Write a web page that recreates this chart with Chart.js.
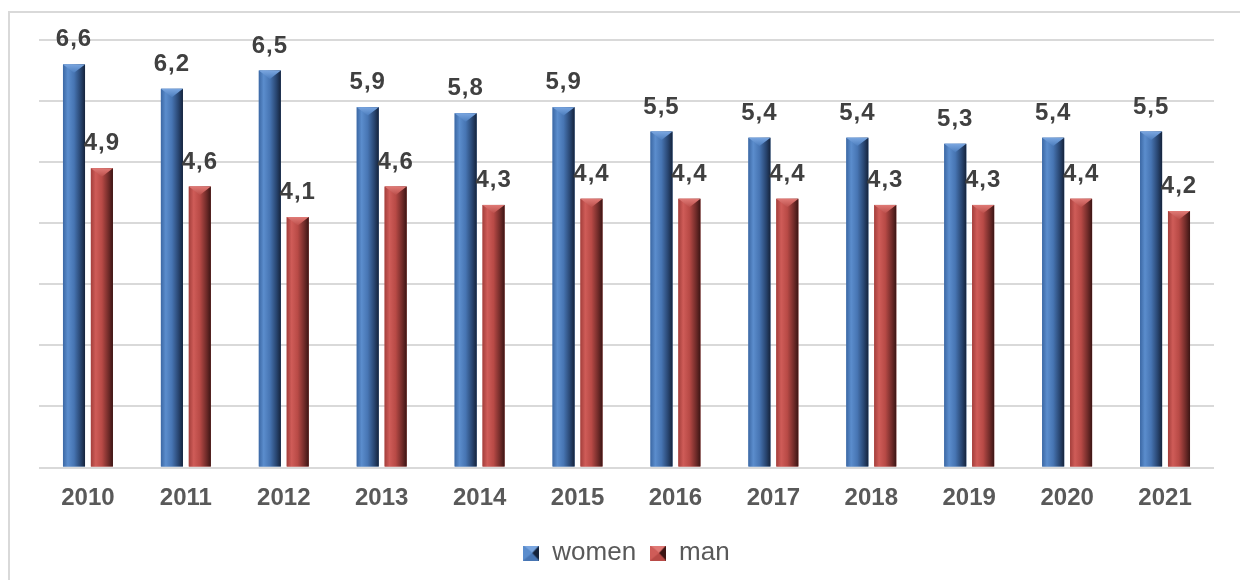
<!DOCTYPE html>
<html>
<head>
  <title>women / man 2010-2021</title>
  <script src="https://cdn.jsdelivr.net/npm/chart.js"></script>
  <style>
    body { margin: 0; background: #fff; overflow: hidden; }
    #frame { position: absolute; left: 8px; top: 11px; width: 1260px; height: 600px; border: 2px solid #d9d9d9; }
    #wrap { position: absolute; left: 0; top: 0; width: 1240px; height: 580px; }
  </style>
</head>
<body>
  <div id="frame"></div>
  <div id="wrap"><canvas id="chart" width="1240" height="580"></canvas></div>

  <script>
    const years = ['2010', '2011', '2012', '2013', '2014', '2015', '2016', '2017', '2018', '2019', '2020', '2021'];
    const women = [6.6, 6.2, 6.5, 5.9, 5.8, 5.9, 5.5, 5.4, 5.4, 5.3, 5.4, 5.5];
    const man = [4.9, 4.6, 4.1, 4.6, 4.3, 4.4, 4.4, 4.4, 4.3, 4.3, 4.4, 4.2];

    const FONT = "'Liberation Sans', Arial, sans-serif";

    // shading for the bevelled (excel style) bars
    const shades = [
      { base: '#4a7ab8', stops: ['#3c68a4', '#5b8dcd', '#4775b3', '#284570', '#15233b'], cap: ['#7aa6e0', '#4c7dbd'] },
      { base: '#b84b47', stops: ['#a43f3c', '#cf5c58', '#b84a46', '#702b29', '#3b1514'], cap: ['#e07a76', '#bb4f4b'] }
    ];

    // small bevel squares for the legend
    function legendIcon(s) {
      const c = document.createElement('canvas');
      c.width = 16; c.height = 15;
      const x = c.getContext('2d');
      x.fillStyle = s.stops[2];
      x.fillRect(0, 0, 16, 15);
      x.fillStyle = s.cap[0];
      x.beginPath(); x.moveTo(0, 0); x.lineTo(16, 0); x.lineTo(9, 7.5); x.closePath(); x.fill();
      x.fillStyle = s.stops[4];
      x.beginPath(); x.moveTo(9, 7.5); x.lineTo(16, 0); x.lineTo(16, 15); x.closePath(); x.fill();
      x.fillStyle = s.stops[1];
      x.beginPath(); x.moveTo(0, 0); x.lineTo(9, 7.5); x.lineTo(0, 15); x.closePath(); x.fill();
      return c;
    }

    const bevel = {
      id: 'bevel',
      afterDatasetsDraw(chart) {
        const ctx = chart.ctx;
        ctx.save();
        chart.data.datasets.forEach((ds, di) => {
          const meta = chart.getDatasetMeta(di);
          if (meta.hidden) return;
          const s = shades[di];
          meta.data.forEach(bar => {
            const l = bar.x - bar.width / 2, r = bar.x + bar.width / 2;
            const g = ctx.createLinearGradient(l, 0, r, 0);
            const pos = [0, 0.22, 0.5, 0.8, 1];
            s.stops.forEach((c, i) => g.addColorStop(pos[i], c));
            ctx.fillStyle = g;
            ctx.fillRect(l, bar.y, bar.width, bar.base - bar.y);
            // pyramid top
            const d = bar.width * 0.38;
            const cg = ctx.createLinearGradient(0, bar.y, 0, bar.y + d);
            cg.addColorStop(0, s.cap[0]);
            cg.addColorStop(1, s.cap[1]);
            ctx.fillStyle = cg;
            ctx.beginPath();
            ctx.moveTo(l, bar.y);
            ctx.lineTo(r, bar.y);
            ctx.lineTo(bar.x, bar.y + d);
            ctx.closePath();
            ctx.fill();
          });
        });
        ctx.restore();
      }
    };

    const valueLabels = {
      id: 'valueLabels',
      afterDraw(chart) {
        const ctx = chart.ctx;
        ctx.save();
        ctx.font = 'bold 24px ' + FONT;
        ctx.fillStyle = '#404040';
        ctx.textAlign = 'center';
        ctx.textBaseline = 'alphabetic';
        ctx.letterSpacing = '1px';
        chart.data.datasets.forEach((ds, di) => {
          chart.getDatasetMeta(di).data.forEach((bar, i) => {
            const txt = ds.data[i].toFixed(1).replace('.', ',');
            ctx.fillText(txt, bar.x, bar.y - 18);
          });
        });
        ctx.restore();
      }
    };

    const ctx = document.getElementById('chart').getContext('2d');
    const chart = new Chart(ctx, {
      type: 'bar',
      data: {
        labels: years,
        datasets: [
          { label: 'women', data: women, backgroundColor: shades[0].base, pointStyle: legendIcon(shades[0]),
            categoryPercentage: 0.57, barPercentage: 0.79 },
          { label: 'man', data: man, backgroundColor: shades[1].base, pointStyle: legendIcon(shades[1]),
            categoryPercentage: 0.57, barPercentage: 0.79 }
        ]
      },
      options: {
        responsive: false,
        animation: false,
        layout: { padding: { left: 39, right: 26, top: 40, bottom: 4 } },
        scales: {
          x: {
            grid: { display: false, drawTicks: false },
            border: { display: false },
            ticks: { color: '#595959', font: { family: FONT, size: 24, weight: 'bold' }, padding: 16 },
            afterFit(scale) { scale.height = 58.5; }
          },
          y: {
            min: 0, max: 7,
            ticks: { display: false, stepSize: 1 },
            grid: { color: '#d9d9d9', lineWidth: 2, drawTicks: false },
            border: { display: false }
          }
        },
        plugins: {
          legend: {
            position: 'bottom',
            labels: {
              usePointStyle: true, pointStyleWidth: 16, boxHeight: 15,
              color: '#595959', font: { family: FONT, size: 26 }, padding: 14
            }
          },
          tooltip: { enabled: false }
        }
      },
      plugins: [bevel, valueLabels]
    });
  </script>
</body>
</html>
